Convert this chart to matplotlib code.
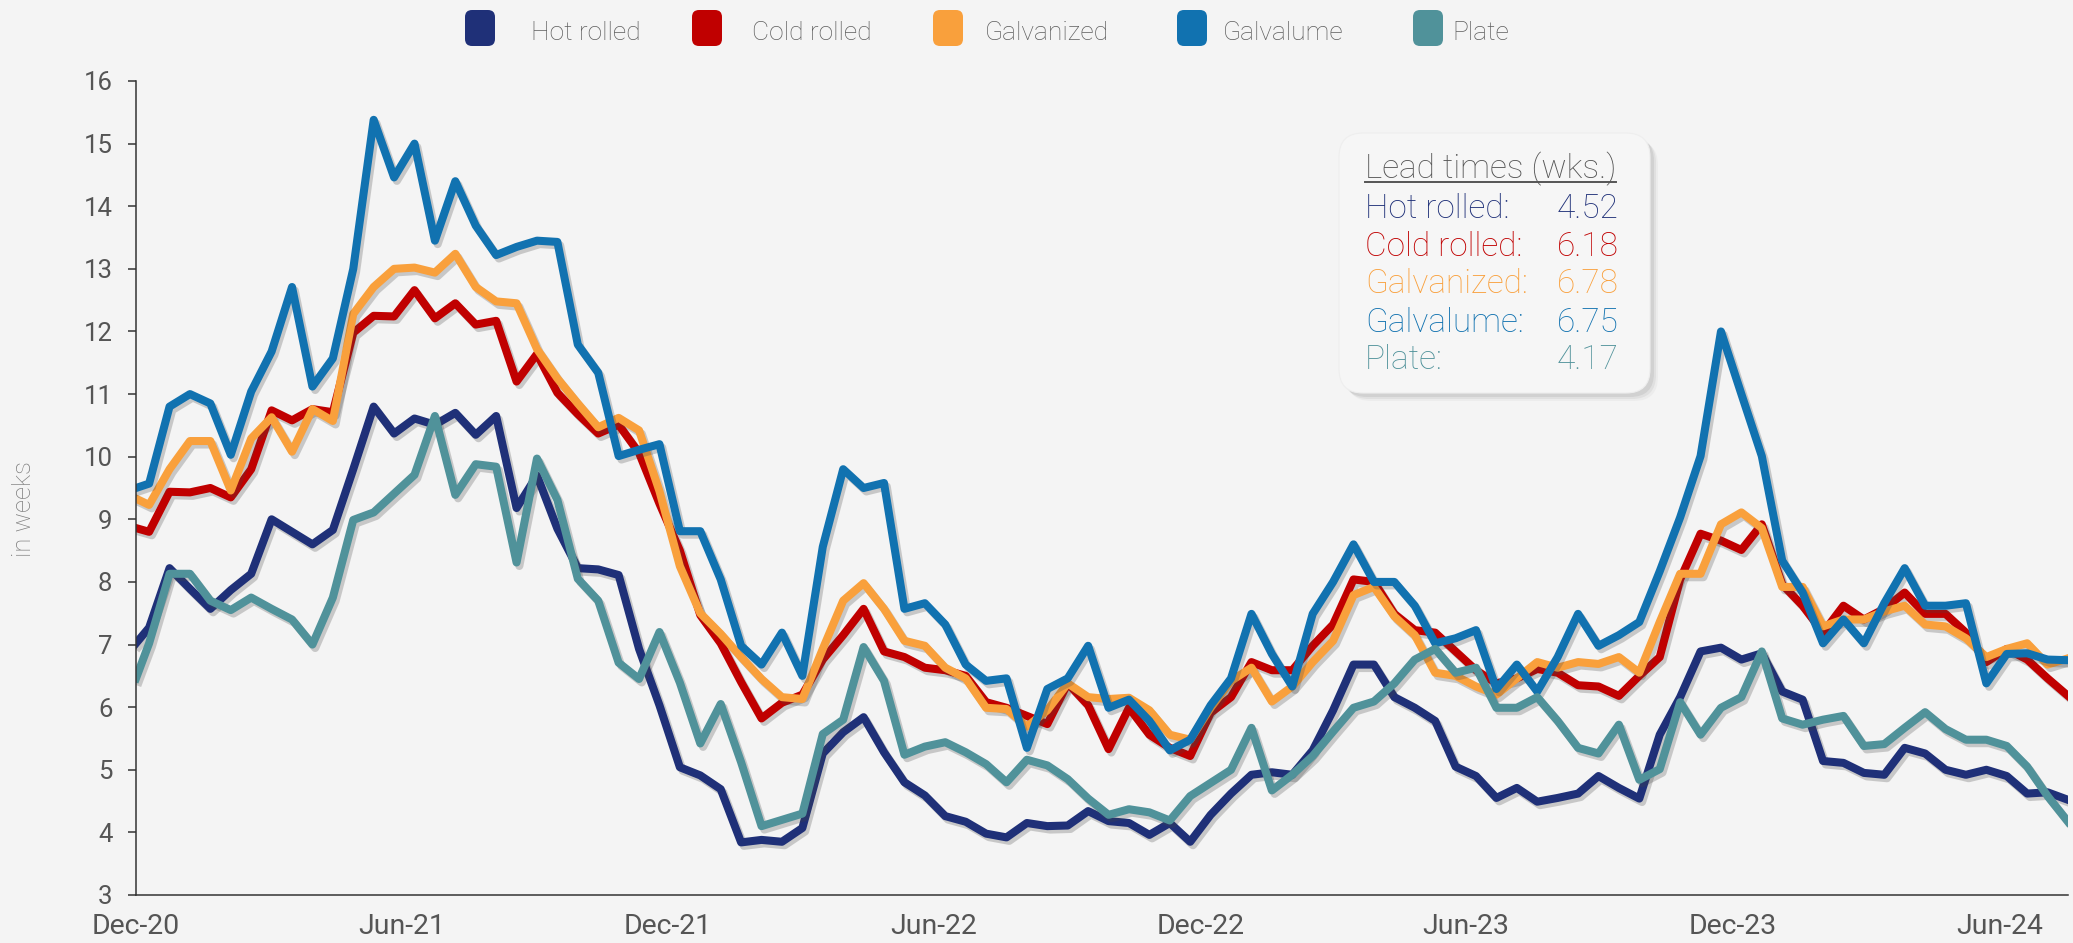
"""
Steel lead times chart (biweekly survey, in weeks).
"""

import matplotlib
matplotlib.use("Agg")
import matplotlib.pyplot as plt
import matplotlib.dates as mdates
import matplotlib.patheffects as pe
from matplotlib.lines import Line2D
from matplotlib.patches import FancyBboxPatch
from matplotlib.transforms import IdentityTransform
import pandas as pd

W, H = 2073, 943
BG = "#f4f4f4"

# first point sits on the axis edge, the rest are the biweekly survey dates
survey_dates = pd.DatetimeIndex(["2020-12-01"]).append(
    pd.date_range("2020-12-10", periods=95, freq="14D"))

hot_rolled = [
    7.02, 7.27, 8.22, 7.89, 7.57, 7.87, 8.13, 9.00, 8.80, 8.60, 8.83, 9.80,
    10.80, 10.37, 10.61, 10.51, 10.70, 10.35, 10.65, 9.18, 9.70, 8.85, 8.22, 8.20,
    8.11, 6.93, 6.03, 5.04, 4.91, 4.69, 3.84, 3.88, 3.85, 4.07, 5.26, 5.60,
    5.84, 5.28, 4.80, 4.59, 4.26, 4.17, 3.98, 3.92, 4.15, 4.10, 4.11, 4.34,
    4.18, 4.15, 3.96, 4.15, 3.85, 4.28, 4.62, 4.92, 4.96, 4.92, 5.31, 5.95,
    6.68, 6.68, 6.16, 5.99, 5.78, 5.05, 4.90, 4.55, 4.71, 4.49, 4.55, 4.62,
    4.90, 4.71, 4.54, 5.56, 6.16, 6.89, 6.95, 6.76, 6.86, 6.25, 6.12, 5.14,
    5.11, 4.95, 4.92, 5.35, 5.26, 5.00, 4.92, 5.00, 4.90, 4.62, 4.64, 4.52,
]
cold_rolled = [
    8.86, 8.80, 9.44, 9.43, 9.50, 9.35, 9.80, 10.74, 10.58, 10.76, 10.71, 11.98,
    12.25, 12.24, 12.66, 12.21, 12.45, 12.11, 12.17, 11.20, 11.64, 11.02, 10.68, 10.37,
    10.51, 10.06, 9.25, 8.50, 7.47, 7.02, 6.40, 5.82, 6.07, 6.20, 6.76, 7.15,
    7.57, 6.89, 6.80, 6.63, 6.59, 6.50, 6.08, 5.99, 5.86, 5.73, 6.38, 6.03,
    5.33, 5.99, 5.56, 5.35, 5.22, 5.91, 6.16, 6.72, 6.59, 6.59, 6.98, 7.32,
    8.04, 8.00, 7.49, 7.23, 7.19, 6.89, 6.59, 6.38, 6.46, 6.61, 6.55, 6.35,
    6.33, 6.18, 6.50, 6.80, 8.04, 8.77, 8.66, 8.51, 8.92, 7.96, 7.62, 7.19,
    7.62, 7.40, 7.57, 7.83, 7.49, 7.49, 7.19, 6.72, 6.93, 6.76, 6.46, 6.18,
]
galvanized = [
    9.33, 9.23, 9.80, 10.25, 10.25, 9.46, 10.29, 10.63, 10.08, 10.76, 10.57, 12.28,
    12.71, 13.00, 13.02, 12.94, 13.24, 12.71, 12.48, 12.45, 11.72, 11.25, 10.85, 10.47,
    10.62, 10.42, 9.45, 8.25, 7.50, 7.17, 6.80, 6.45, 6.16, 6.13, 6.93, 7.70,
    7.98, 7.57, 7.06, 6.98, 6.63, 6.46, 5.99, 5.97, 5.69, 5.95, 6.38, 6.16,
    6.13, 6.15, 5.95, 5.56, 5.48, 5.99, 6.42, 6.63, 6.09, 6.33, 6.72, 7.06,
    7.79, 7.92, 7.45, 7.15, 6.55, 6.50, 6.33, 6.20, 6.46, 6.72, 6.63, 6.72,
    6.69, 6.80, 6.55, 7.36, 8.13, 8.13, 8.92, 9.11, 8.86, 7.92, 7.92, 7.29,
    7.40, 7.40, 7.53, 7.62, 7.32, 7.29, 7.10, 6.80, 6.93, 7.02, 6.68, 6.78,
]
galvalume = [
    9.50, 9.57, 10.80, 11.00, 10.85, 10.03, 11.04, 11.68, 12.71, 11.12, 11.57, 13.00,
    15.38, 14.46, 15.00, 13.45, 14.40, 13.69, 13.22, 13.35, 13.45, 13.43, 11.79, 11.34,
    10.01, 10.11, 10.20, 8.81, 8.81, 8.04, 6.98, 6.68, 7.19, 6.50, 8.56, 9.80,
    9.50, 9.58, 7.57, 7.66, 7.32, 6.68, 6.42, 6.46, 5.35, 6.29, 6.46, 6.98,
    5.99, 6.12, 5.78, 5.31, 5.48, 6.03, 6.46, 7.49, 6.85, 6.33, 7.49, 8.00,
    8.60, 8.00, 8.00, 7.62, 7.02, 7.10, 7.23, 6.29, 6.68, 6.25, 6.80, 7.49,
    6.98, 7.15, 7.36, 8.17, 9.03, 10.01, 12.00, 11.00, 10.01, 8.34, 7.83, 7.02,
    7.40, 7.02, 7.66, 8.22, 7.62, 7.62, 7.66, 6.38, 6.85, 6.86, 6.76, 6.75,
]
plate = [
    6.46, 7.02, 8.13, 8.13, 7.70, 7.55, 7.75, 7.57, 7.40, 7.00, 7.75, 8.99,
    9.11, 9.41, 9.71, 10.65, 9.39, 9.88, 9.84, 8.31, 9.97, 9.31, 8.05, 7.70,
    6.71, 6.45, 7.20, 6.39, 5.42, 6.05, 5.12, 4.10, 4.20, 4.30, 5.57, 5.80,
    6.96, 6.42, 5.24, 5.37, 5.44, 5.28, 5.09, 4.80, 5.16, 5.07, 4.85, 4.54,
    4.28, 4.37, 4.32, 4.19, 4.58, 4.79, 5.00, 5.67, 4.67, 4.92, 5.22, 5.61,
    5.99, 6.09, 6.38, 6.76, 6.93, 6.55, 6.63, 5.99, 5.99, 6.16, 5.78, 5.35,
    5.26, 5.72, 4.84, 5.01, 6.08, 5.56, 5.99, 6.16, 6.89, 5.82, 5.72, 5.80,
    5.86, 5.38, 5.41, 5.67, 5.92, 5.65, 5.48, 5.48, 5.38, 5.05, 4.58, 4.17,
]

names = ["Hot rolled", "Cold rolled", "Galvanized", "Galvalume", "Plate"]
colors = ["#1f3078", "#c00000", "#f9a03c", "#1172b0", "#50929a"]
values = [hot_rolled, cold_rolled, galvanized, galvalume, plate]

plt.rcParams["font.family"] = ["Roboto", "DejaVu Sans"]

fig = plt.figure(figsize=(W / 100, H / 100), dpi=100, facecolor=BG)
ax = fig.add_axes([136 / W, 1 - 895 / H, (2068 - 136) / W, (895 - 81) / H])
ax.set_facecolor(BG)

shadow = [pe.SimpleLineShadow(offset=(2, -2.5), shadow_color="#444", alpha=0.25),
          pe.Normal()]
for name, vals, col in zip(names, values, colors):
    ax.plot(survey_dates, vals, color=col, lw=5.8, label=name,
            path_effects=shadow)

ax.set_xlim(survey_dates[0], survey_dates[-1])
ax.set_ylim(3, 16)
ax.set_yticks(range(3, 17))
ax.xaxis.set_major_locator(mdates.MonthLocator(bymonth=[6, 12]))
ax.xaxis.set_major_formatter(mdates.DateFormatter("%b-%y"))
ax.tick_params(axis="x", length=0, pad=13, labelsize=20.5, labelcolor="#555555")
ax.tick_params(axis="y", length=6, width=1.1, pad=11, labelsize=18.5,
               labelcolor="#555555", color="#333333")
for side in ("top", "right"):
    ax.spines[side].set_visible(False)
for side in ("left", "bottom"):
    ax.spines[side].set_color("#333333")
    ax.spines[side].set_linewidth(1.1)

fig.text(24 / W, 1 - 509 / H, "in weeks", rotation=90, ha="center",
         va="center", fontsize=18.5, color="#7c7c7c", fontweight="light")

# legend row along the top
px = IdentityTransform()
marker_x = [480, 707, 948, 1192, 1428]
label_x = [531, 752, 985, 1223, 1452]
for name, col, mx, lx in zip(names, colors, marker_x, label_x):
    fig.add_artist(FancyBboxPatch((mx - 15, H - 46), 30, 36,
                                  boxstyle="round,pad=0,rounding_size=7",
                                  fc=col, ec="none", transform=px))
    fig.text(lx / W, 1 - 40 / H, name, ha="left", va="baseline",
             fontsize=19, color="#5e5e5e", fontweight="light")

# "latest values" box
bx0, by0, bw, bh = 1339, H - 393, 311, 260
for off, a in [(8, 0.06), (6, 0.10), (4, 0.14)]:
    fig.add_artist(FancyBboxPatch((bx0 + off, by0 - off), bw, bh,
                                  boxstyle="round,pad=0,rounding_size=24",
                                  fc="#777777", ec="none", alpha=a, transform=px))
fig.add_artist(FancyBboxPatch((bx0, by0), bw, bh,
                              boxstyle="round,pad=0,rounding_size=24",
                              fc="#f6f6f6", ec="#eeeeee", lw=0.8, transform=px))

title = fig.text(1365 / W, 1 - 178 / H, "Lead times (wks.)", ha="left",
                 va="baseline", fontsize=24, color="#555555", fontweight="light")
baselines = [218, 256, 293, 332, 369]
for name, vals, col, yb in zip(names, values, colors, baselines):
    fig.text(1365 / W, 1 - yb / H, name + ":", ha="left", va="baseline",
             fontsize=24, color=col, fontweight="light")
    fig.text(1619 / W, 1 - yb / H, f"{vals[-1]:.2f}", ha="right",
             va="baseline", fontsize=24, color=col, fontweight="light")

fig.canvas.draw()
bb = title.get_window_extent()
fig.add_artist(Line2D([bb.x0, bb.x1], [H - 182, H - 182], color="#555555",
                      lw=1.4, transform=px))

fig.savefig("out.png", dpi=100, facecolor=BG)
